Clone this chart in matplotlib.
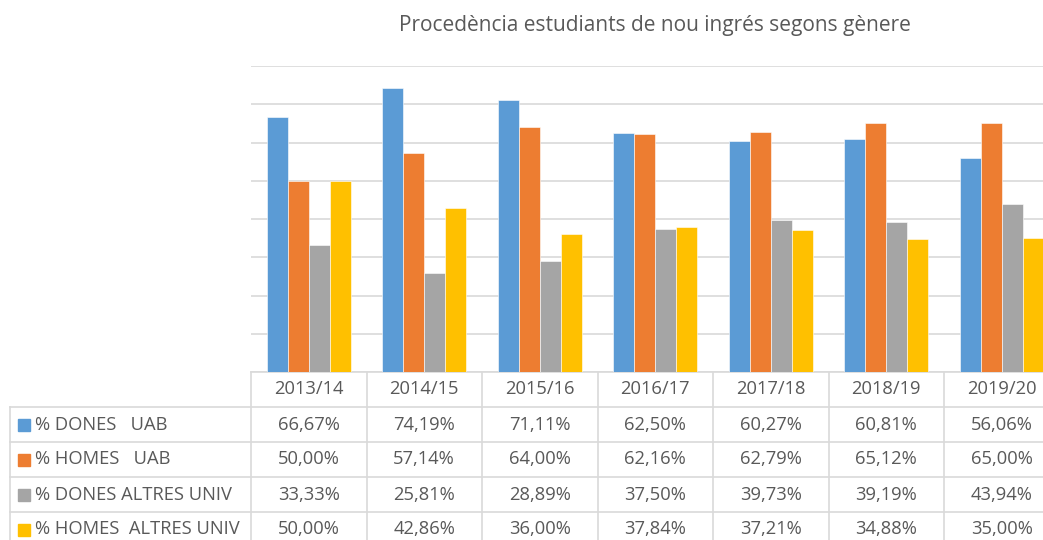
import matplotlib
matplotlib.use("Agg")
import matplotlib.pyplot as plt
import numpy as np

# ---- data ----
years = ["2013/14", "2014/15", "2015/16", "2016/17", "2017/18", "2018/19", "2019/20"]
series_names = ["% DONES   UAB", "% HOMES   UAB", "% DONES ALTRES UNIV", "% HOMES  ALTRES UNIV"]
dones_uab = [66.67, 74.19, 71.11, 62.50, 60.27, 60.81, 56.06]
homes_uab = [50.00, 57.14, 64.00, 62.16, 62.79, 65.12, 65.00]
dones_altres = [33.33, 25.81, 28.89, 37.50, 39.73, 39.19, 43.94]
homes_altres = [50.00, 42.86, 36.00, 37.84, 37.21, 34.88, 35.00]
colors = ["#5B9BD5", "#ED7D31", "#A5A5A5", "#FFC000"]
title = "Procedència estudiants de nou ingrés segons gènere"

series = [dones_uab, homes_uab, dones_altres, homes_altres]

W, H = 1043, 540
plt.rcParams["font.family"] = ["Open Sans", "DejaVu Sans"]
text_color = "#595959"
line_color = "#D9D9D9"

fig = plt.figure(figsize=(W / 100, H / 100), dpi=100)

# plot area in pixels (chart is cropped on the right)
left, right, top, bottom = 251, 1059.5, 66, 372
ax = fig.add_axes([left / W, 1 - bottom / H, (right - left) / W, (bottom - top) / H])

x = np.arange(len(years))
bw = 0.182
for i, (vals, c) in enumerate(zip(series, colors)):
    ax.bar(x + (i - 1.5) * bw, vals, width=bw, color=c, edgecolor="white", linewidth=0.4, zorder=3)

ax.set_xlim(-0.5, len(years) - 0.5)
ax.set_ylim(0, 80)
ax.set_yticks(np.arange(0, 81, 10))
ax.grid(axis="y", color=line_color, linewidth=1.2, zorder=0)
ax.set_xticks([])
ax.tick_params(left=False, labelleft=False)
for s in ["top", "right", "left"]:
    ax.spines[s].set_visible(False)
ax.spines["bottom"].set_color(line_color)
ax.spines["bottom"].set_linewidth(1.2)

fig.text((left + right) / 2 / W, 1 - 25 / H, title, ha="center", va="center",
         fontsize=15, color=text_color)

# ---- data table below the chart, drawn in pixel coordinates ----
tab = fig.add_axes([0, 0, 1, 1], zorder=-1)
tab.set_xlim(0, W)
tab.set_ylim(H, 0)
tab.axis("off")

col_w = (right - left) / len(years)
row_y = [bottom, 407, 442, 477, 512, 547]
tbl_left = 10
fs = 13.2

for k in range(len(years) + 1):
    tab.plot([left + k * col_w] * 2, [bottom, row_y[-1]], color=line_color, lw=1.2)
tab.plot([tbl_left, tbl_left], [row_y[1], row_y[-1]], color=line_color, lw=1.2)
for yy in row_y[1:-1]:
    tab.plot([tbl_left, right], [yy, yy], color=line_color, lw=1.2)

for k, yr in enumerate(years):
    tab.text(left + (k + 0.5) * col_w, (row_y[0] + row_y[1]) / 2, yr,
             ha="center", va="center", fontsize=fs, color=text_color)

for r, (name, vals, c) in enumerate(zip(series_names, series, colors)):
    yc = (row_y[r + 1] + row_y[r + 2]) / 2
    tab.add_patch(plt.Rectangle((18, yc - 6), 12, 12, color=c))
    tab.text(35, yc, name, ha="left", va="center", fontsize=fs, color=text_color)
    for k, v in enumerate(vals):
        tab.text(left + (k + 0.5) * col_w, yc, f"{v:.2f}%".replace(".", ","),
                 ha="center", va="center", fontsize=fs, color=text_color)

fig.savefig("out.png", dpi=100)
